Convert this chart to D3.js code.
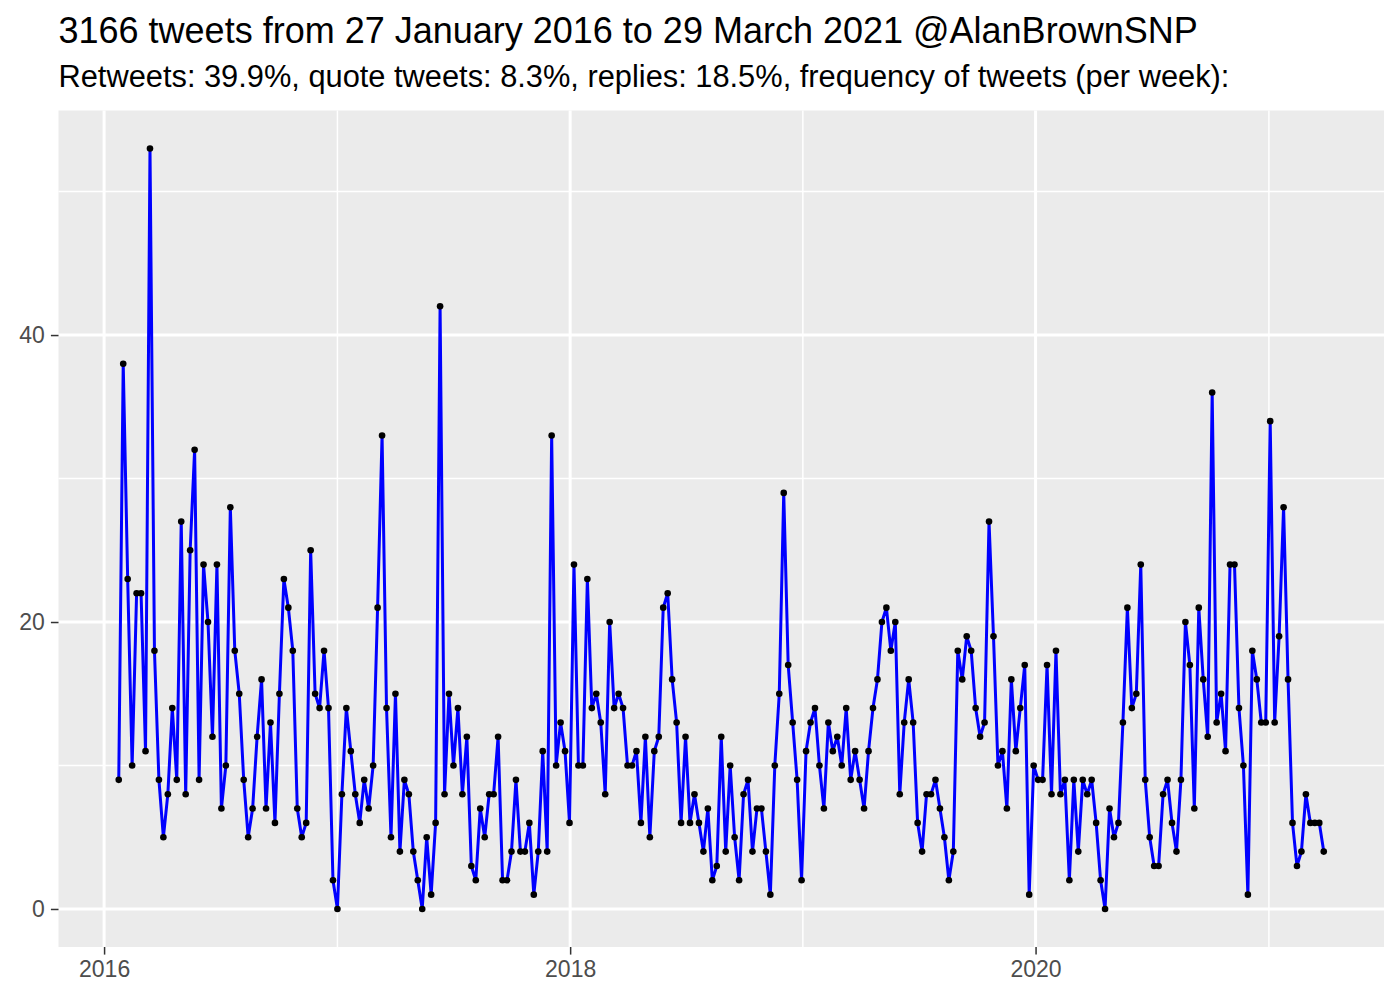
<!DOCTYPE html>
<html>
<head>
<meta charset="utf-8">
<script src="https://cdn.jsdelivr.net/npm/d3@7"></script>
<style>
  html, body { margin: 0; padding: 0; background: #ffffff; }
  svg { display: block; font-family: "Liberation Sans", Arial, Helvetica, sans-serif; }
</style>
</head>
<body>
<svg id="chart" width="1400" height="1000"></svg>
<script>
// ---- data ----
const titleText = "3166 tweets from 27 January 2016 to 29 March 2021 @AlanBrownSNP";
const subtitleText = "Retweets: 39.9%, quote tweets: 8.3%, replies: 18.5%, frequency of tweets (per week):";
const firstWeek = "2016-01-24"; // week start (Sunday) of the first week
const tweetsPerWeek = [
  9,38,23,10,22,22,11,53,18,9,
  5,8,14,9,27,8,25,32,9,24,
  20,12,24,7,10,28,18,15,9,5,
  7,12,16,7,13,6,15,23,21,18,
  7,5,6,25,15,14,18,14,2,0,
  8,14,11,8,6,9,7,10,21,33,
  14,5,15,4,9,8,4,2,0,5,
  1,6,42,8,15,10,14,8,12,3,
  2,7,5,8,8,12,2,2,4,9,
  4,4,6,1,4,11,4,33,10,13,
  11,6,24,10,10,23,14,15,13,8,
  20,14,15,14,10,10,11,6,12,5,
  11,12,21,22,16,13,6,12,6,8,
  6,4,7,2,3,12,4,10,5,2,
  8,9,4,7,7,4,1,10,15,29,
  17,13,9,2,11,13,14,10,7,13,
  11,12,10,14,9,11,9,7,11,14,
  16,20,21,18,20,8,13,16,13,6,
  4,8,8,9,7,5,2,4,18,16,
  19,18,14,12,13,27,19,10,11,7,
  16,11,14,17,1,10,9,9,17,8,
  18,8,9,2,9,4,9,8,9,6,
  2,0,7,5,6,13,21,14,15,24,
  9,5,3,3,8,9,6,4,9,20,
  17,7,21,16,12,36,13,15,11,24,
  24,14,10,1,18,16,13,13,34,13,
  19,28,16,6,3,4,8,6,6,6,4
];
const yTicks = [0, 20, 40];
const yMinorTicks = [10, 30, 50];
const xTickYears = ["2016", "2018", "2020"];
const xMinorYears = ["2017", "2019", "2021"];

// ---- layout ----
const svg = d3.select("#chart");
const panel = { left: 58.5, right: 1384, top: 110.5, bottom: 947 };

const start = new Date(firstWeek + "T00:00:00Z");
const data = tweetsPerWeek.map((v, i) => ({ date: d3.utcWeek.offset(start, i), value: v }));

const [dMin, dMax] = d3.extent(data, d => d.date);
const span = dMax - dMin;
const x = d3.scaleUtc()
  .domain([new Date(+dMin - 0.05 * span), new Date(+dMax + 0.05 * span)])
  .range([panel.left, panel.right]);

const vMin = d3.min(tweetsPerWeek), vMax = d3.max(tweetsPerWeek);
const vSpan = vMax - vMin;
const y = d3.scaleLinear()
  .domain([vMin - 0.05 * vSpan, vMax + 0.05 * vSpan])
  .range([panel.bottom, panel.top]);

// panel background
svg.append("rect")
  .attr("x", panel.left).attr("y", panel.top)
  .attr("width", panel.right - panel.left).attr("height", panel.bottom - panel.top)
  .attr("fill", "#EBEBEB");

const grid = svg.append("g");
const yearDate = s => new Date(s + "-01-01T00:00:00Z");

// minor grid
grid.selectAll("line.ymin").data(yMinorTicks).join("line")
  .attr("x1", panel.left).attr("x2", panel.right)
  .attr("y1", d => y(d)).attr("y2", d => y(d))
  .attr("stroke", "#ffffff").attr("stroke-width", 1.5);
grid.selectAll("line.xmin").data(xMinorYears.map(yearDate)).join("line")
  .attr("y1", panel.top).attr("y2", panel.bottom)
  .attr("x1", d => x(d)).attr("x2", d => x(d))
  .attr("stroke", "#ffffff").attr("stroke-width", 1.5);
// major grid
grid.selectAll("line.ymaj").data(yTicks).join("line")
  .attr("x1", panel.left).attr("x2", panel.right)
  .attr("y1", d => y(d)).attr("y2", d => y(d))
  .attr("stroke", "#ffffff").attr("stroke-width", 3);
grid.selectAll("line.xmaj").data(xTickYears.map(yearDate)).join("line")
  .attr("y1", panel.top).attr("y2", panel.bottom)
  .attr("x1", d => x(d)).attr("x2", d => x(d))
  .attr("stroke", "#ffffff").attr("stroke-width", 3);

// line
svg.append("path")
  .datum(data)
  .attr("fill", "none")
  .attr("stroke", "#0000FF")
  .attr("stroke-width", 3)
  .attr("stroke-linejoin", "round")
  .attr("d", d3.line().x(d => x(d.date)).y(d => y(d.value)));

// points
svg.append("g").selectAll("circle").data(data).join("circle")
  .attr("cx", d => x(d.date)).attr("cy", d => y(d.value))
  .attr("r", 3.3).attr("fill", "#000000");

// axes
const yAxis = d3.axisLeft(y).tickValues(yTicks).tickSize(7.6).tickPadding(6);
const gy = svg.append("g").attr("transform", `translate(${panel.left},0)`).call(yAxis);
gy.select(".domain").remove();
gy.selectAll(".tick line").attr("stroke", "#333333").attr("stroke-width", 1.5);
gy.selectAll(".tick text").attr("fill", "#4D4D4D").attr("font-size", 23)
  .attr("font-family", "'Liberation Sans', Arial, sans-serif");

const xAxis = d3.axisBottom(x).tickValues(xTickYears.map(yearDate))
  .tickFormat(d3.utcFormat("%Y")).tickSize(7.6).tickPadding(6);
const gx = svg.append("g").attr("transform", `translate(0,${panel.bottom})`).call(xAxis);
gx.select(".domain").remove();
gx.selectAll(".tick line").attr("stroke", "#333333").attr("stroke-width", 1.5);
gx.selectAll(".tick text").attr("fill", "#4D4D4D").attr("font-size", 23)
  .attr("font-family", "'Liberation Sans', Arial, sans-serif");

// titles
svg.append("text").attr("x", panel.left).attr("y", 43)
  .attr("font-size", 36).attr("fill", "#000000").text(titleText);
svg.append("text").attr("x", panel.left).attr("y", 87)
  .attr("font-size", 30.8).attr("fill", "#000000").text(subtitleText);
</script>
</body>
</html>
